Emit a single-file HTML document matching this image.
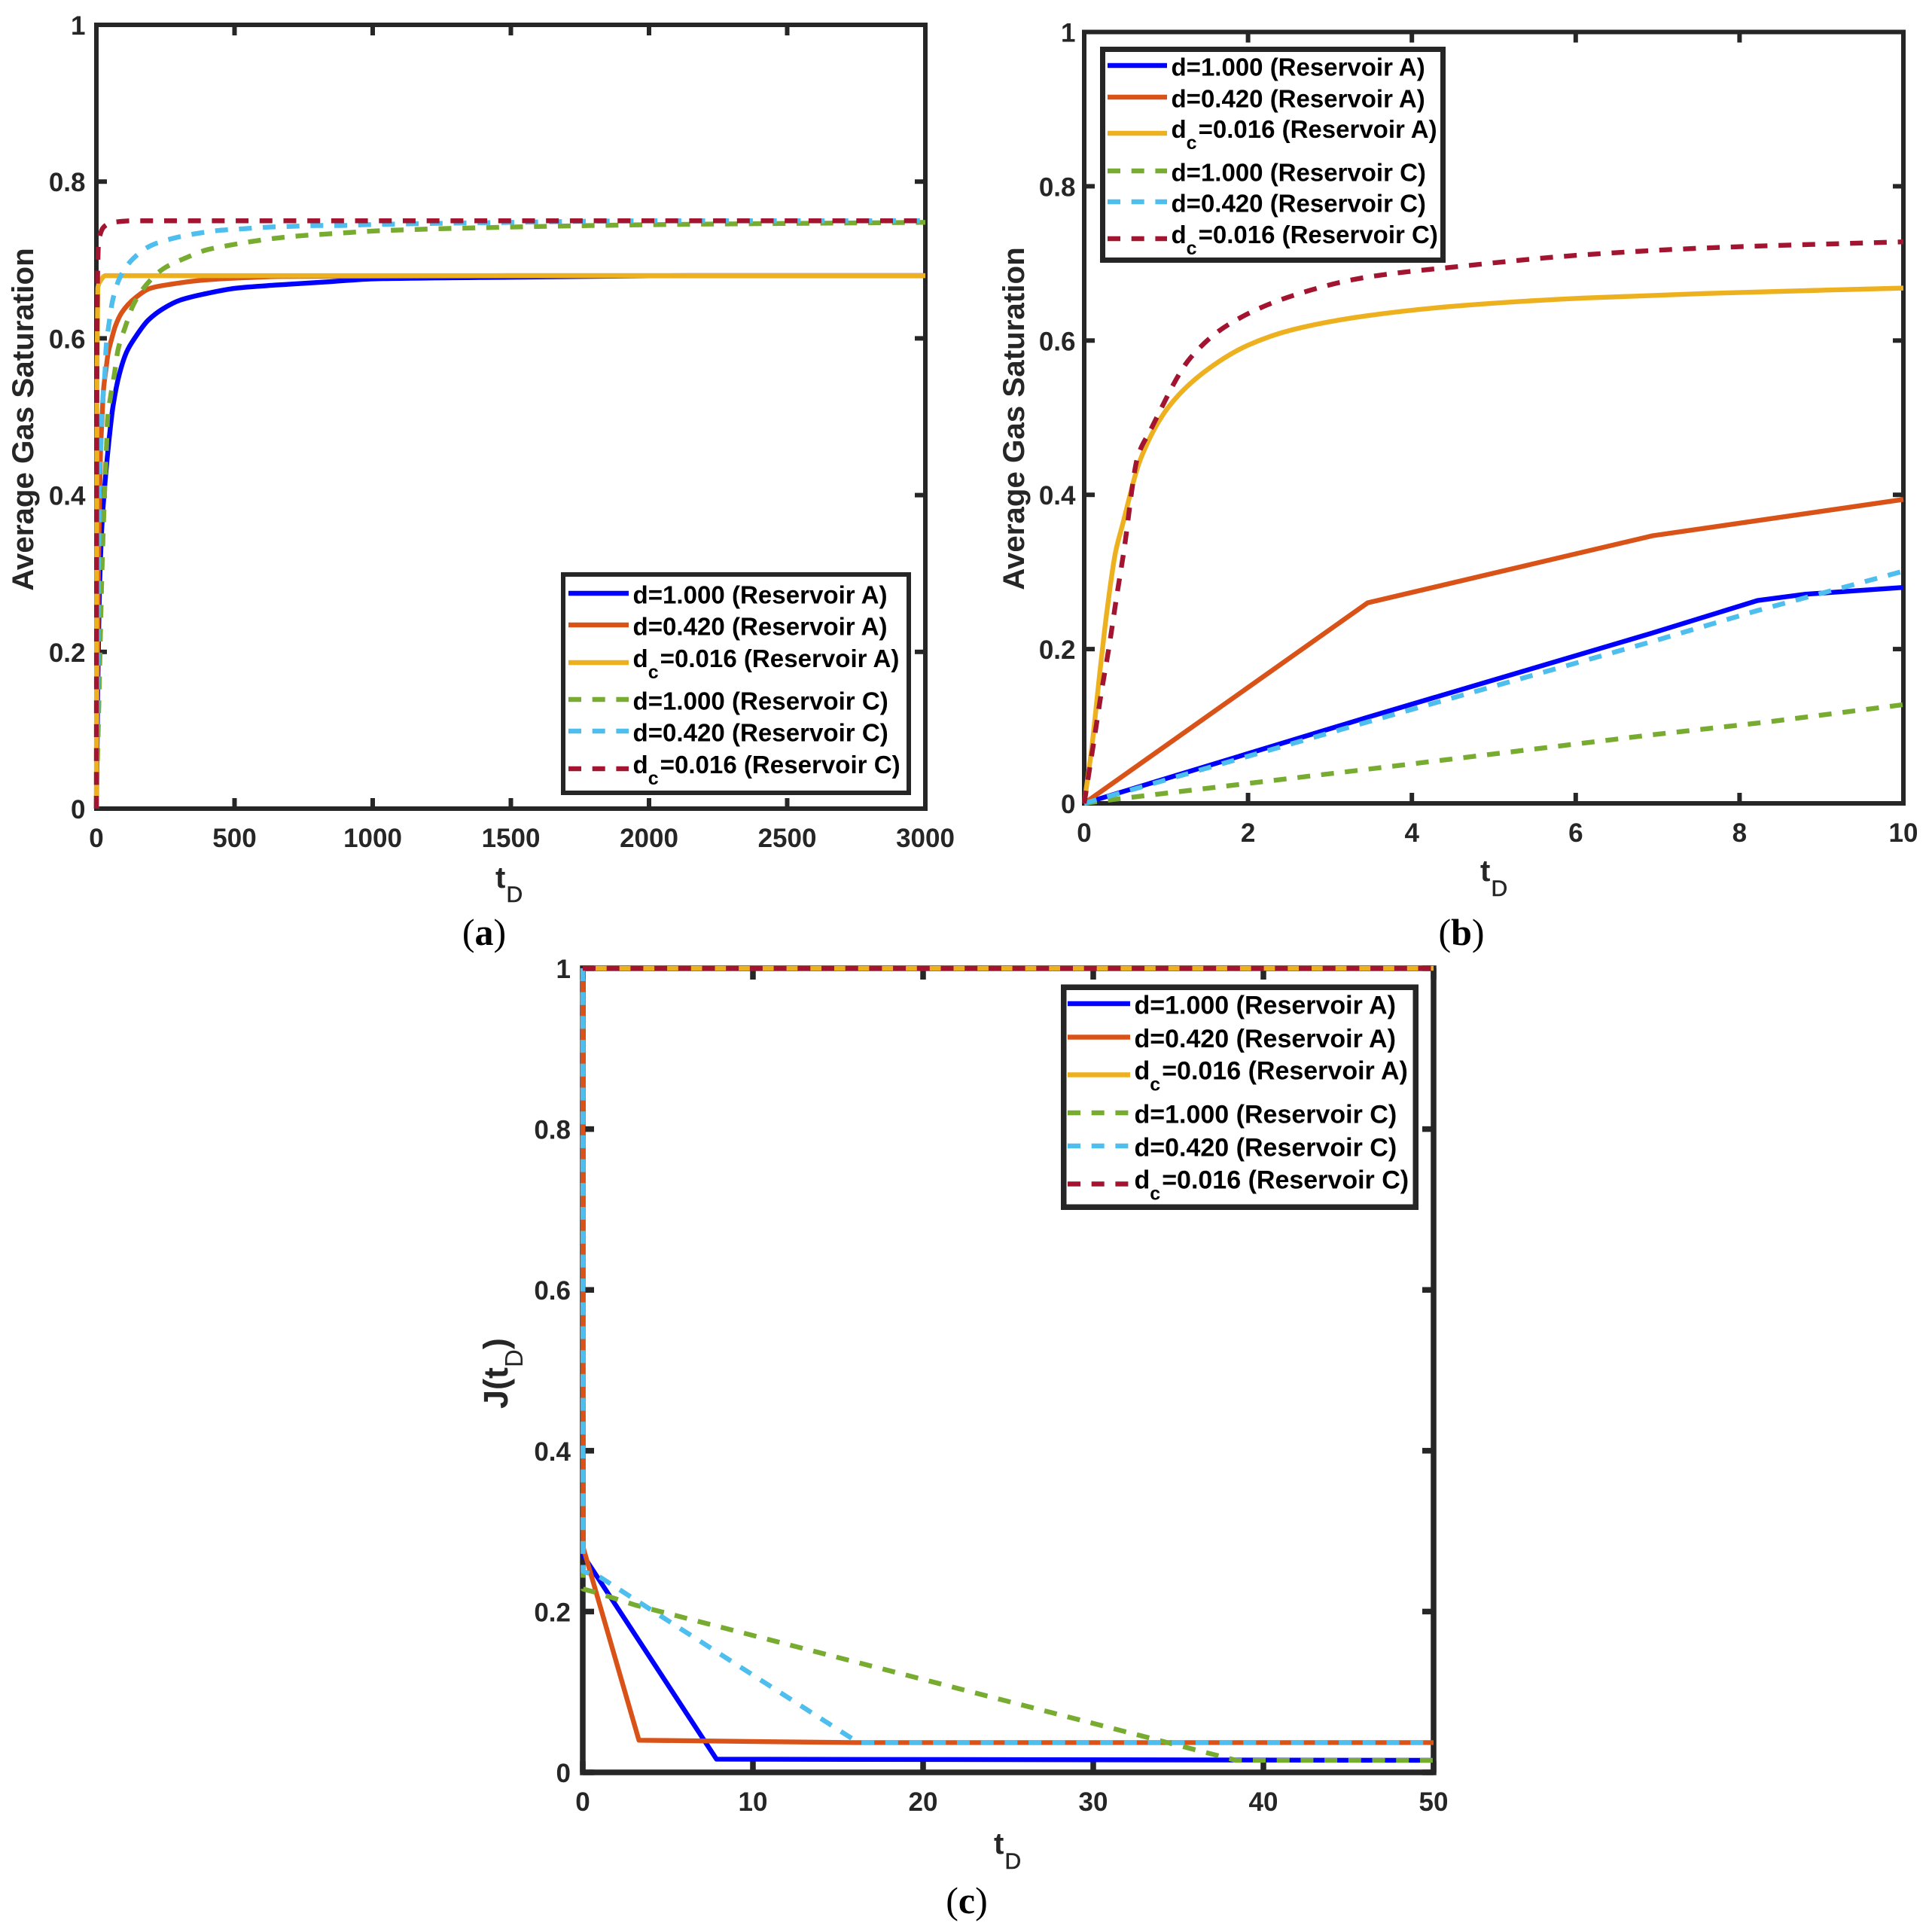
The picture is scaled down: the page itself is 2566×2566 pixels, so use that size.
<!DOCTYPE html>
<html lang="en">
<head>
<meta charset="utf-8">
<title>Average gas saturation and J(tD) charts</title>
<style>
html,body{margin:0;padding:0;background:#fff;}
svg{display:block;}
text{font-family:"Liberation Sans",Arial,sans-serif;}
.cap{font-family:"Liberation Serif","Times New Roman",serif;}
</style>
</head>
<body>
<svg id="figure" xmlns="http://www.w3.org/2000/svg" width="2566" height="2566" viewBox="0 0 2566 2566">
  <rect x="0" y="0" width="2566" height="2566" fill="#fff"/>
  <text class="cap" x="643" y="1255" font-size="50" text-anchor="middle" fill="#000">(<tspan font-weight="bold">a</tspan>)</text>
  <text class="cap" x="1941" y="1255" font-size="50" text-anchor="middle" fill="#000">(<tspan font-weight="bold">b</tspan>)</text>
  <text class="cap" x="1284" y="2541" font-size="50" text-anchor="middle" fill="#000">(<tspan font-weight="bold">c</tspan>)</text>
</svg>
<script>
// ---------- tick values ----------
const xTicksA = [0, 500, 1000, 1500, 2000, 2500, 3000];
const xTicksB = [0, 2, 4, 6, 8, 10];
const xTicksC = [0, 10, 20, 30, 40, 50];
const yTicks = [0, 0.2, 0.4, 0.6, 0.8, 1];

// ---------- legend labels ----------
const legendPrefix = ["d", "d", "d", "d", "d", "d"];
const legendSub = ["", "", "c", "", "", "c"];
const legendRest = ["=1.000 (Reservoir A)", "=0.420 (Reservoir A)", "=0.016 (Reservoir A)", "=1.000 (Reservoir C)", "=0.420 (Reservoir C)", "=0.016 (Reservoir C)"];

// ---------- panel (a) values ----------
const aBlueX = [0, 5, 10, 20, 33, 46, 60, 83, 110, 142, 187, 242, 305, 396, 504, 650, 832, 1013, 1500, 2150, 3000];
const aBlueY = [0, 0.15, 0.26, 0.36, 0.423, 0.471, 0.513, 0.554, 0.583, 0.602, 0.623, 0.638, 0.649, 0.657, 0.664, 0.668, 0.672, 0.676, 0.678, 0.68, 0.68];
const aOrangeX = [0, 3, 8, 15, 19, 26, 35, 42, 55, 69, 92, 142, 196, 269, 378, 514, 673, 1500, 3000];
const aOrangeY = [0, 0.15, 0.32, 0.455, 0.487, 0.535, 0.561, 0.58, 0.599, 0.616, 0.633, 0.652, 0.664, 0.669, 0.674, 0.677, 0.679, 0.68, 0.68];
const aYellowX = [0, 1, 2, 5, 14, 33, 3000];
const aYellowY = [0, 0.3, 0.55, 0.664, 0.673, 0.68, 0.68];
const aGreenX = [0, 10, 20, 33, 37, 40, 51, 65, 78, 104, 134, 180, 243, 319, 400, 485, 570, 654, 741, 828, 913, 1005, 1500, 2000, 3000];
const aGreenY = [0, 0.15, 0.3, 0.433, 0.465, 0.495, 0.525, 0.554, 0.585, 0.614, 0.643, 0.668, 0.689, 0.702, 0.713, 0.719, 0.724, 0.728, 0.731, 0.733, 0.735, 0.737, 0.742, 0.745, 0.748];
const aCyanX = [0, 4, 8, 12, 17, 19, 24, 31, 35, 45, 58, 83, 131, 201, 282, 367, 453, 539, 626, 712, 800, 884, 973, 1500, 2000, 3000];
const aCyanY = [0, 0.15, 0.3, 0.433, 0.468, 0.495, 0.525, 0.556, 0.587, 0.617, 0.647, 0.676, 0.701, 0.719, 0.728, 0.734, 0.738, 0.74, 0.742, 0.743, 0.744, 0.744, 0.745, 0.748, 0.75, 0.75];
const aCrimsonX = [0, 1, 3, 5, 8, 33, 60, 133, 3000];
const aCrimsonY = [0, 0.4, 0.63, 0.692, 0.723, 0.744, 0.748, 0.75, 0.75];

// ---------- panel (b) values ----------
const bBlueX = [0, 3.44, 6.94, 8.22, 8.79, 10];
const bBlueY = [0, 0.111, 0.221, 0.263, 0.271, 0.28];
const bOrangeX = [0, 3.46, 6.94, 10];
const bOrangeY = [0, 0.26, 0.347, 0.394];
const bYellowX = [0, 0.092, 0.184, 0.276, 0.383, 0.46, 0.69, 1.03, 1.45, 2, 2.54, 3.44, 4.57, 6.08, 7.58, 10];
const bYellowY = [0, 0.072, 0.163, 0.248, 0.326, 0.358, 0.447, 0.514, 0.558, 0.594, 0.614, 0.632, 0.645, 0.655, 0.661, 0.668];
const bGreenX = [0, 0.35, 3.44, 6.94, 8.3, 10];
const bGreenY = [0, 0.005, 0.044, 0.089, 0.105, 0.128];
const bCyanX = [0, 3.44, 6.94, 8.22, 10];
const bCyanY = [0, 0.105, 0.21, 0.25, 0.301];
const bCrimsonX = [0, 0.12, 0.208, 0.305, 0.39, 0.48, 0.655, 0.8, 1.3, 1.78, 2.54, 3.44, 4.57, 6.08, 7.58, 10];
const bCrimsonY = [0, 0.082, 0.143, 0.204, 0.264, 0.324, 0.45, 0.482, 0.578, 0.622, 0.658, 0.682, 0.696, 0.711, 0.72, 0.728];

// ---------- panel (c) values ----------
const cBlueX = [0, 0.02, 7.86, 50];
const cBlueY = [1, 0.27, 0.0164, 0.015];
const cOrangeX = [0, 0.02, 3.3, 16, 50];
const cOrangeY = [1, 0.28, 0.04, 0.037, 0.037];
const cYellowX = [0, 50];
const cYellowY = [1, 1];
const cGreenX = [0, 0.02, 0.74, 3.1, 38.4, 50];
const cGreenY = [1, 0.228, 0.224, 0.208, 0.015, 0.015];
const cCyanX = [0, 0.02, 1, 16.2, 50];
const cCyanY = [1, 0.25, 0.243, 0.037, 0.037];
const cCrimsonX = [0, 50];
const cCrimsonY = [1, 1];

// ---------- series styling ----------
const seriesNames = ["d1000-reservoir-a", "d0420-reservoir-a", "dc0016-reservoir-a", "d1000-reservoir-c", "d0420-reservoir-c", "dc0016-reservoir-c"];
const seriesColors = ["#0000FF", "#D95319", "#EDB120", "#77AC30", "#4DBEEE", "#A2142F"];
const seriesDashes = ["none", "none", "none", "17 14.7", "17 14.7", "17 14.7"];

const panels = [
  {
    id: "a", left: 128, right: 1229, top: 33, bottom: 1074, xMax: 3000, frame: 6, tick: 14,
    xTicks: xTicksA, xLabelY: 1125, yLabelX: 113.5,
    seriesX: [aBlueX, aOrangeX, aYellowX, aGreenX, aCyanX, aCrimsonX],
    seriesY: [aBlueY, aOrangeY, aYellowY, aGreenY, aCyanY, aCrimsonY],
    smooth: [true, true, true, true, true, true],
    legend: { x: 748, y: 763, w: 459, h: 290, lineX: 755, lineW: 80, textX: 840.5, rows: [788, 830, 880, 929, 971, 1021], stroke: 6, font: 33.1 },
    tX: 658, tY: 1179, dY: 1198, yTitleX: 44, yTitleY: 557
  },
  {
    id: "b", left: 1440, right: 2528, top: 42.5, bottom: 1067, xMax: 10, frame: 6, tick: 14,
    xTicks: xTicksB, xLabelY: 1118, yLabelX: 1428.5,
    seriesX: [bBlueX, bOrangeX, bYellowX, bGreenX, bCyanX, bCrimsonX],
    seriesY: [bBlueY, bOrangeY, bYellowY, bGreenY, bCyanY, bCrimsonY],
    smooth: [false, false, true, false, false, true],
    legend: { x: 1464.5, y: 65.5, w: 452, h: 280, lineX: 1471, lineW: 79, textX: 1555.5, rows: [87, 129, 177, 227, 268, 317], stroke: 7, font: 33 },
    tX: 1966, tY: 1170, dY: 1190, yTitleX: 1360, yTitleY: 556
  },
  {
    id: "c", left: 774, right: 1904, top: 1286, bottom: 2354, xMax: 50, frame: 7.5, tick: 15,
    xTicks: xTicksC, xLabelY: 2405, yLabelX: 758,
    seriesX: [cBlueX, cOrangeX, cYellowX, cGreenX, cCyanX, cCrimsonX],
    seriesY: [cBlueY, cOrangeY, cYellowY, cGreenY, cCyanY, cCrimsonY],
    smooth: [false, false, false, false, false, false],
    legend: { x: 1412.75, y: 1311.25, w: 467.5, h: 292, lineX: 1418, lineW: 83, textX: 1506.5, rows: [1333, 1377.5, 1427.5, 1478, 1522, 1572.5], stroke: 7.5, font: 34 },
    tX: 1320, tY: 2462, dY: 2482, jTitle: true
  }
];

const NS = "http://www.w3.org/2000/svg";
const AXIS_COLOR = "#262626";
const LINE_W = 6.4;
const figure = document.getElementById("figure");

function make(tag, parent, attrs) {
  const n = document.createElementNS(NS, tag);
  for (const k in attrs) n.setAttribute(k, attrs[k]);
  parent.appendChild(n);
  return n;
}

// Shape-preserving cubic through the data points, so curved series stay smooth.
function slopes(xs, ys) {
  const n = xs.length;
  const h = [], d = [];
  for (let i = 0; i < n - 1; i++) {
    h.push(xs[i + 1] - xs[i]);
    d.push((ys[i + 1] - ys[i]) / h[i]);
  }
  const m = new Array(n).fill(0);
  m[0] = d[0];
  m[n - 1] = d[n - 2];
  for (let i = 1; i < n - 1; i++) {
    if (d[i - 1] * d[i] > 0) {
      const w1 = 2 * h[i] + h[i - 1];
      const w2 = h[i] + 2 * h[i - 1];
      m[i] = (w1 + w2) / (w1 / d[i - 1] + w2 / d[i]);
    }
  }
  return m;
}

function pathFor(xs, ys, sx, sy, smooth) {
  let s = "M" + sx(xs[0]).toFixed(2) + " " + sy(ys[0]).toFixed(2);
  const m = smooth ? slopes(xs, ys) : null;
  for (let i = 0; i < xs.length - 1; i++) {
    if (smooth) {
      const h = xs[i + 1] - xs[i];
      const c1x = xs[i] + h / 3, c1y = ys[i] + m[i] * h / 3;
      const c2x = xs[i + 1] - h / 3, c2y = ys[i + 1] - m[i + 1] * h / 3;
      s += "C" + sx(c1x).toFixed(2) + " " + sy(c1y).toFixed(2) + " " + sx(c2x).toFixed(2) + " " + sy(c2y).toFixed(2) + " " + sx(xs[i + 1]).toFixed(2) + " " + sy(ys[i + 1]).toFixed(2);
    } else {
      s += "L" + sx(xs[i + 1]).toFixed(2) + " " + sy(ys[i + 1]).toFixed(2);
    }
  }
  return s;
}

function drawPanel(p) {
  const sx = v => p.left + (v / p.xMax) * (p.right - p.left);
  const sy = v => p.bottom - v * (p.bottom - p.top);

  const g = make("g", figure, {});
  
  

  const frame = make("rect", g, { x: p.left, y: p.top, width: p.right - p.left, height: p.bottom - p.top, fill: "none", stroke: AXIS_COLOR, "stroke-width": p.frame });
  
  

  p.xTicks.forEach(v => {
    const x = sx(v);
    const t1 = make("line", g, { x1: x, x2: x, y1: p.bottom, y2: p.bottom - p.tick, stroke: AXIS_COLOR, "stroke-width": p.frame });
    
    
    const t2 = make("line", g, { x1: x, x2: x, y1: p.top, y2: p.top + p.tick, stroke: AXIS_COLOR, "stroke-width": p.frame });
    
    
    const lab = make("text", g, { x: x, y: p.xLabelY, "font-size": 35, "font-weight": "bold", "text-anchor": "middle", fill: AXIS_COLOR });
    lab.textContent = String(v);
    
    
  });

  yTicks.forEach(v => {
    const y = sy(v);
    const t1 = make("line", g, { x1: p.left, x2: p.left + p.tick, y1: y, y2: y, stroke: AXIS_COLOR, "stroke-width": p.frame });
    
    
    const t2 = make("line", g, { x1: p.right, x2: p.right - p.tick, y1: y, y2: y, stroke: AXIS_COLOR, "stroke-width": p.frame });
    
    
    const lab = make("text", g, { x: p.yLabelX, y: y + 13, "font-size": 35, "font-weight": "bold", "text-anchor": "end", fill: AXIS_COLOR });
    lab.textContent = String(v);
    
    
  });

  // x axis title
  const xt = make("text", g, { x: p.tX, y: p.tY, "font-size": 40, "font-weight": "bold", fill: AXIS_COLOR });
  xt.textContent = "t";
  
  
  const xd = make("text", g, { x: p.tX + 14.5, y: p.dY, "font-size": 30, fill: AXIS_COLOR, stroke: AXIS_COLOR, "stroke-width": 0.6 });
  xd.textContent = "D";
  
  

  // y axis title
  if (p.jTitle) {
    const yt = make("text", g, { transform: "translate(674 1871) rotate(-90)", "font-size": 45, "font-weight": "bold", fill: AXIS_COLOR });
    
    
    const a = make("tspan", yt, {});
    a.textContent = "J(t";
    const b = make("tspan", yt, { dy: 20, "font-size": 33, "font-weight": "normal" });
    b.textContent = "D";
    const c = make("tspan", yt, { dy: -20 });
    c.textContent = ")";
  } else {
    const yt = make("text", g, { transform: "translate(" + p.yTitleX + " " + p.yTitleY + ") rotate(-90)", "font-size": 40.3, "font-weight": "bold", "text-anchor": "middle", fill: AXIS_COLOR });
    yt.textContent = "Average Gas Saturation";
    
    
  }

  // series
  p.seriesX.forEach((xs, i) => {
    const ys = p.seriesY[i];
    const line = make("path", g, { d: pathFor(xs, ys, sx, sy, p.smooth[i]), fill: "none", stroke: seriesColors[i], "stroke-width": LINE_W, "stroke-dasharray": seriesDashes[i], "stroke-linejoin": "round" });
    
    
  });

  // legend
  const L = p.legend;
  const lg = make("g", g, {});
  
  
  const box = make("rect", lg, { x: L.x, y: L.y, width: L.w, height: L.h, fill: "#fff", stroke: AXIS_COLOR, "stroke-width": L.stroke });
  
  
  L.rows.forEach((ry, i) => {
    const sample = make("line", lg, { x1: L.lineX, x2: L.lineX + L.lineW, y1: ry, y2: ry, stroke: seriesColors[i], "stroke-width": LINE_W, "stroke-dasharray": seriesDashes[i] });
    
    
    const hasSub = legendSub[i] !== "";
    const txt = make("text", lg, { x: L.textX, y: ry + (hasSub ? 6 : 13.3), "font-size": L.font, "font-weight": "bold", fill: "#000" });
    
    
    const t0 = make("tspan", txt, {});
    t0.textContent = legendPrefix[i];
    if (hasSub) {
      const s = make("tspan", txt, { dy: 15, "font-size": 25 });
      s.textContent = legendSub[i];
      const r = make("tspan", txt, { dy: -15, dx: 2 });
      r.textContent = legendRest[i];
    } else {
      const r = make("tspan", txt, {});
      r.textContent = legendRest[i];
    }
  });
}

panels.forEach(drawPanel);
</script>
</body>
</html>
